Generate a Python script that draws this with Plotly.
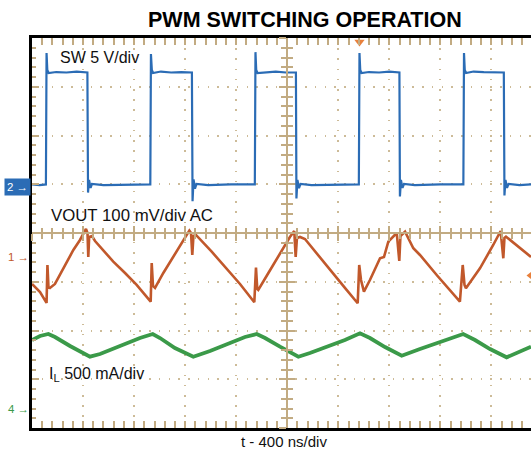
import plotly.graph_objects as go

# ---------------- data ----------------
# time in ns, 400 ns/div ; visible window 0 .. 3910 ns
T_MAX = 3910
NS_PER_DIV = 400

# Channel 2 : SW node, 5 V/div, ground marker at +0.95 div
SW_SCALE = 5.0
SW_OFFSET = 0.95
sw_t = [0, 60, 109, 114, 120, 130, 190, 270, 350, 434, 439, 447, 459, 470, 560, 740,
        927, 932, 939, 948, 1010, 1090, 1170, 1253, 1258, 1266, 1277, 1289, 1380, 1560,
        1746, 1751, 1757, 1767, 1830, 1910, 1990, 2068, 2072, 2080, 2092, 2104, 2190, 2380,
        2561, 2566, 2572, 2582, 2640, 2720, 2800, 2879, 2883, 2891, 2903, 2915, 3000, 3200,
        3380, 3385, 3391, 3401, 3460, 3540, 3620, 3697, 3702, 3710, 3722, 3734, 3820, 3910]
sw_v = [0.23, 0.17, 0.23, 13.7, 11.97, 11.66, 11.76, 11.71, 11.81, 11.71, -0.6, 0.69, -0.13, 0.28, 0.17, 0.23,
        0.23, 13.6, 11.97, 11.66, 11.81, 11.71, 11.76, 11.71, -1.5, 0.75, -0.2, 0.28, 0.17, 0.23,
        0.23, 13.8, 11.97, 11.66, 11.76, 11.81, 11.71, 11.71, -1.2, 0.7, -0.15, 0.28, 0.17, 0.23,
        0.23, 13.7, 11.97, 11.66, 11.76, 11.71, 11.81, 11.71, -1.0, 0.7, -0.13, 0.28, 0.17, 0.23,
        0.23, 13.7, 11.97, 11.66, 11.81, 11.76, 11.71, 11.71, -0.9, 0.69, -0.13, 0.28, 0.17, 0.23]

# Channel 1 : VOUT, 100 mV/div AC, marker at -0.5 div
VOUT_SCALE = 100.0
VOUT_OFFSET = -0.5
vout_t = [0, 63, 114, 121, 129, 141, 180, 245, 324, 376, 423, 435, 441, 448, 470, 494, 637, 729, 820,
          930, 938, 948, 964, 1029, 1107, 1160, 1233, 1246, 1256, 1265, 1285, 1408, 1538, 1630, 1742,
          1755, 1765, 1773, 1851, 1956, 2021, 2055, 2066, 2076, 2100, 2139, 2322, 2452, 2552,
          2564, 2578, 2601, 2648, 2727, 2758, 2792, 2858, 2878, 2887, 2897, 2923, 2988, 3040, 3171, 3275, 3353,
          3375, 3389, 3400, 3510, 3614, 3672, 3693, 3702, 3714, 3798, 3876, 3910]
vout_mv = [-54.6, -71.0, -93.5, -15.6, -60.7, -62.7, -54.6, -21.7, 15.2, 35.7, 58.3, 50.1, 0.8, 41.8, 43.9, 33.6, -8.8, -32.0, -56.6,
           -90.9, -11.5, -58.7, -62.7, -32.0, 1.4, 25.4, 54.8, 50.0, 4.9, 43.9, 46.0, 11.7, -25.8, -54.6, -92.1,
           -21.1, -64.8, -66.9, -32.6, 15.2, 41.8, 54.1, 0.8, 39.8, 41.8, 37.7, -22.4, -62.7, -94.1,
           -15.6, -46.4, -70.3, -46.4, -1.8, 0.8, 32.2, 50.0, -7.4, 43.9, 46.0, 52.7, 18.7, 4.9, -36.1, -66.9, -90.9,
           -15.6, -56.6, -63.4, -22.4, 25.4, 54.1, -1.8, 39.8, 42.5, 25.4, 8.4, 0.8]

# Channel 4 : inductor current, 500 mA/div, marker at -3.6 div
IL_SCALE = 500.0
IL_OFFSET = -3.6
il_t = [0, 63, 128, 180, 298, 454, 533, 690, 846, 946, 1003, 1120, 1264, 1395, 1551, 1669, 1761, 1826,
        1943, 2087, 2178, 2335, 2452, 2570, 2648, 2766, 2897, 3040, 3197, 3379, 3471, 3589, 3719, 3824, 3910]
il_ma = [702.5, 743.6, 764.1, 733.3, 641.0, 531.3, 559.0, 641.0, 723.1, 764.1, 723.1, 620.5, 531.3, 589.7, 671.8, 733.3, 764.1, 723.1,
         633.8, 531.3, 569.2, 641.0, 702.5, 771.3, 723.1, 630.7, 541.5, 610.2, 682.0, 764.1, 702.5, 610.2, 525.1, 579.5, 633.8]

TRIG_T = 2566        # ns, trigger position (top marker)
TRIG_LEVEL_MV = -37  # mV on channel 1 (right marker)

TITLE = "PWM SWITCHING OPERATION"
LABEL_SW = "SW 5 V/div"
LABEL_VOUT = "VOUT 100 mV/div AC"
LABEL_IL = "I<sub>L</sub> 500 mA/div"
LABEL_T = "t - 400 ns/div"

# ---------------- styles ----------------
BLUE = "#2b6cb5"
ORANGE = "#c1582b"
GREEN = "#3b9a49"
TAN = "#c2ab82"
GRIDC = "#cdbb98"
FONT = "Liberation Sans, Arial, sans-serif"


def to_div(vals, scale, offset):
    return [offset + v / scale for v in vals]


fig = go.Figure()

fig.add_trace(go.Scatter(x=il_t, y=to_div(il_ma, IL_SCALE, IL_OFFSET), mode="lines",
                         line=dict(color=GREEN, width=3.8), showlegend=False, hoverinfo="skip"))
fig.add_trace(go.Scatter(x=vout_t, y=to_div(vout_mv, VOUT_SCALE, VOUT_OFFSET), mode="lines",
                         line=dict(color=ORANGE, width=2.6), showlegend=False, hoverinfo="skip"))
fig.add_trace(go.Scatter(x=sw_t, y=to_div(sw_v, SW_SCALE, SW_OFFSET), mode="lines",
                         line=dict(color=BLUE, width=2.2), showlegend=False, hoverinfo="skip"))

# trigger markers
fig.add_trace(go.Scatter(x=[TRIG_T], y=[3.92], mode="markers", cliponaxis=False,
                         marker=dict(symbol="triangle-down", size=9, color="#e8803c"),
                         showlegend=False, hoverinfo="skip"))
fig.add_trace(go.Scatter(x=[T_MAX], y=[VOUT_OFFSET + TRIG_LEVEL_MV / VOUT_SCALE], mode="markers",
                         cliponaxis=False,
                         marker=dict(symbol="triangle-left", size=9, color="#e8803c"),
                         showlegend=False, hoverinfo="skip"))

# dummy traces so the centre axes are drawn
for xa, ya in (("x2", "y"), ("x3", "y"), ("x", "y2"), ("x", "y3")):
    fig.add_trace(go.Scatter(x=[None], y=[None], xaxis=xa, yaxis=ya, showlegend=False, hoverinfo="skip"))

common_x = dict(range=[0, T_MAX], tick0=0, dtick=NS_PER_DIV, showticklabels=False, zeroline=False,
                fixedrange=True, automargin=False)
common_y = dict(range=[-4, 4], tick0=0, dtick=1, showticklabels=False, zeroline=False, fixedrange=True,
                automargin=False)

fig.update_layout(
    width=531, height=449,
    margin=dict(l=32, r=0, t=38, b=21),
    paper_bgcolor="white", plot_bgcolor="white",
    xaxis=dict(**common_x, showline=True, linecolor="black", linewidth=3, mirror="allticks",
               ticks="inside", ticklen=7, tickcolor=TAN, tickwidth=1.5,
               minor=dict(ticks="inside", ticklen=4, dtick=NS_PER_DIV / 5, tickcolor=TAN, tickwidth=1.5,
                          showgrid=False),
               showgrid=True, gridcolor=GRIDC, gridwidth=1.5, griddash="1.5px,8.7px"),
    yaxis=dict(**common_y, showline=True, linecolor="black", linewidth=3, mirror=False,
               ticks="inside", ticklen=7, tickcolor=TAN, tickwidth=1.5,
               minor=dict(ticks="inside", ticklen=4, dtick=0.2, tickcolor=TAN, tickwidth=1.5, showgrid=False),
               showgrid=True, gridcolor=GRIDC, gridwidth=1.5, griddash="1.5px,8.25px"),
    xaxis2=dict(**common_x, overlaying="x", anchor="free", position=0.5, showgrid=False,
                showline=True, linecolor=TAN, linewidth=1.8, ticks="outside", ticklen=7,
                tickcolor=TAN, tickwidth=1.8,
                minor=dict(ticks="outside", ticklen=5, dtick=NS_PER_DIV / 5, tickcolor=TAN, tickwidth=1.8)),
    xaxis3=dict(**common_x, overlaying="x", anchor="free", position=0.5, showgrid=False,
                showline=False, ticks="inside", ticklen=7, tickcolor=TAN, tickwidth=1.8,
                minor=dict(ticks="inside", ticklen=5, dtick=NS_PER_DIV / 5, tickcolor=TAN, tickwidth=1.8)),
    yaxis2=dict(**common_y, overlaying="y", anchor="free", position=2000 / T_MAX, showgrid=False,
                showline=True, linecolor=TAN, linewidth=1.8, ticks="outside", ticklen=7,
                tickcolor=TAN, tickwidth=1.8,
                minor=dict(ticks="outside", ticklen=5, dtick=0.2, tickcolor=TAN, tickwidth=1.8)),
    yaxis3=dict(**common_y, overlaying="y", anchor="free", position=2000 / T_MAX, showgrid=False,
                showline=False, ticks="inside", ticklen=7, tickcolor=TAN, tickwidth=1.8,
                minor=dict(ticks="inside", ticklen=5, dtick=0.2, tickcolor=TAN, tickwidth=1.8)),
    font=dict(family=FONT, color="black"),
)

ann = []
ann.append(dict(text=f"<b>{TITLE}</b>", xref="paper", yref="paper", x=0.547, y=1.046,
                xanchor="center", yanchor="middle", showarrow=False,
                font=dict(size=21.5, family=FONT, color="black")))
ann.append(dict(text=LABEL_SW, xref="paper", yref="paper", x=0.052, y=0.949, xanchor="left",
                yanchor="middle", showarrow=False, font=dict(size=16, family=FONT, color="#111")))
ann.append(dict(text=LABEL_VOUT, xref="paper", yref="paper", x=0.034, y=0.5436, xanchor="left",
                yanchor="middle", showarrow=False, font=dict(size=16.8, family=FONT, color="#111")))
ann.append(dict(text=LABEL_IL, xref="paper", yref="paper", x=0.030, y=0.138, xanchor="left",
                yanchor="middle", showarrow=False, font=dict(size=16, family=FONT, color="#111")))
ann.append(dict(text=LABEL_T, xref="paper", yref="paper", x=0.505, y=-0.034, xanchor="center",
                yanchor="middle", showarrow=False, font=dict(size=15, family=FONT, color="#111")))
# channel markers
ann.append(dict(text="2 →", xref="paper", yref="y", x=0, y=SW_OFFSET, xanchor="right", yanchor="middle",
                xshift=-1, showarrow=False, bgcolor=BLUE, borderpad=2,
                font=dict(size=11.5, family=FONT, color="white")))
ann.append(dict(text="1 →", xref="paper", yref="y", x=0, y=VOUT_OFFSET, xanchor="right", yanchor="middle",
                xshift=-1, showarrow=False, font=dict(size=11.5, family=FONT, color=ORANGE)))
ann.append(dict(text="4 →", xref="paper", yref="y", x=0, y=IL_OFFSET, xanchor="right", yanchor="middle",
                xshift=-1, showarrow=False, font=dict(size=11.5, family=FONT, color=GREEN)))
fig.update_layout(annotations=ann)

fig.write_html("out.html", config={"displayModeBar": False},
               post_script="document.body.style.margin='0px';")
